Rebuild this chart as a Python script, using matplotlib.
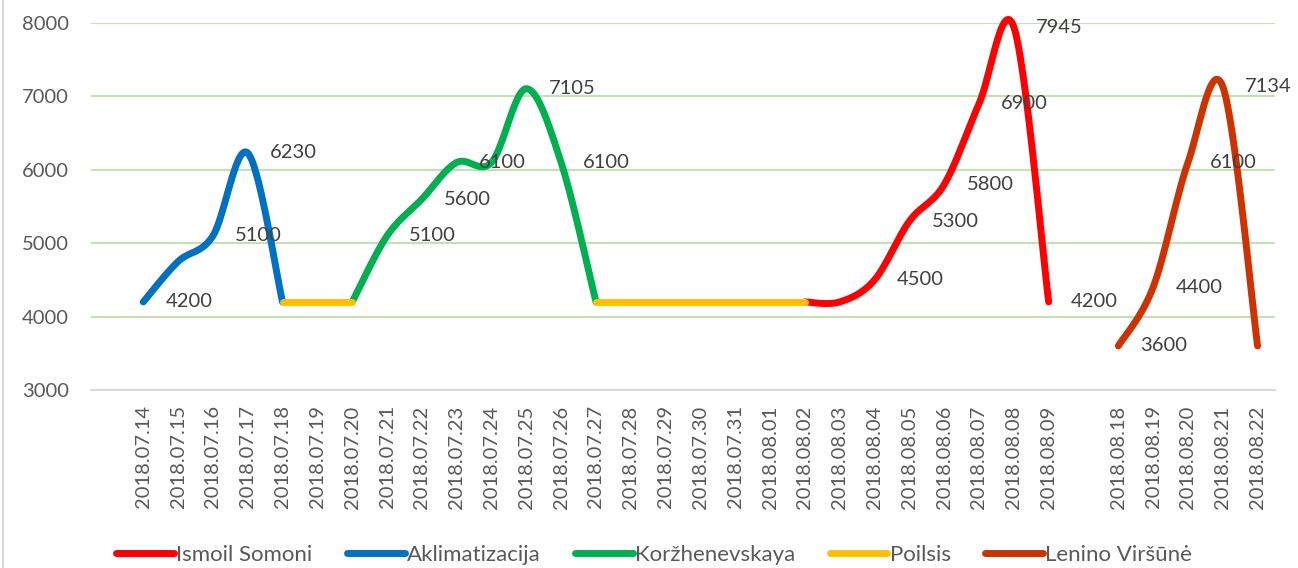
import matplotlib
matplotlib.use("Agg")

import numpy as np
import matplotlib.pyplot as plt
from matplotlib.lines import Line2D

# -----------------------------
# DATA
# -----------------------------
dates = ([""]
         + [f"2018.07.{d}" for d in range(14, 32)]
         + [f"2018.08.{d:02d}" for d in range(1, 10)]
         + [""]
         + [f"2018.08.{d}" for d in range(18, 23)])

somoni_dates  = ["2018.08.02", "2018.08.03", "2018.08.04", "2018.08.05",
                 "2018.08.06", "2018.08.07", "2018.08.08", "2018.08.09"]
somoni_vals   = [4200, 4200, 4500, 5300, 5800, 6900, 7945, 4200]
somoni_labels = [0, 0, 1, 1, 1, 1, 1, 1]

aklim_dates  = ["2018.07.14", "2018.07.15", "2018.07.16", "2018.07.17", "2018.07.18"]
aklim_vals   = [4200, 4750, 5100, 6230, 4200]
aklim_labels = [1, 0, 1, 1, 0]

korz_dates  = ["2018.07.20", "2018.07.21", "2018.07.22", "2018.07.23",
               "2018.07.24", "2018.07.25", "2018.07.26", "2018.07.27"]
korz_vals   = [4200, 5100, 5600, 6100, 6100, 7105, 6100, 4200]
korz_labels = [0, 1, 1, 1, 0, 1, 1, 0]

poilsis_dates = ["2018.07.18", "2018.07.19", "2018.07.20",
                 "2018.07.27", "2018.07.28", "2018.07.29", "2018.07.30",
                 "2018.07.31", "2018.08.01", "2018.08.02"]
poilsis_vals  = [4200] * 10
poilsis_labels = [0] * 10

lenino_dates  = ["2018.08.18", "2018.08.19", "2018.08.20", "2018.08.21", "2018.08.22"]
lenino_vals   = [3600, 4400, 6100, 7134, 3600]
lenino_labels = [1, 1, 1, 1, 0]

# -----------------------------
# STYLE
# -----------------------------
FONT      = "Lato"
FS        = 14.5
LEG_FS    = 16
TXT_GREY  = "#595959"
LBL_GREY  = "#404040"
LW        = 5

plt.rcParams["font.family"] = [FONT, "DejaVu Sans"]


def smooth(x, y, n=30):
    # excel-like smoothed line: cubic bezier through the points
    px = np.concatenate([[x[0]], x, [x[-1]]]).astype(float)
    py = np.concatenate([[y[0]], y, [y[-1]]]).astype(float)
    t  = np.linspace(0, 1, n)[:, None]
    out = []
    for i in range(1, len(px) - 2):
        p0 = np.array([px[i], py[i]])
        p3 = np.array([px[i + 1], py[i + 1]])
        c1 = p0 + (np.array([px[i + 1], py[i + 1]]) - np.array([px[i - 1], py[i - 1]])) / 6
        c2 = p3 - (np.array([px[i + 2], py[i + 2]]) - np.array([px[i], py[i]])) / 6
        seg = ((1 - t) ** 3) * p0 + 3 * ((1 - t) ** 2) * t * c1 + 3 * (1 - t) * t ** 2 * c2 + t ** 3 * p3
        out.append(seg if i == 1 else seg[1:])
    pts = np.vstack(out)
    return pts[:, 0], pts[:, 1]


def runs(idx, vals):
    # split a series at gaps in the category index
    groups, cur = [], [(idx[0], vals[0])]
    for a, b in zip(zip(idx[1:], vals[1:]), zip(idx[:-1], vals[:-1])):
        if a[0] - b[0] == 1:
            cur.append(a)
        else:
            groups.append(cur)
            cur = [a]
    groups.append(cur)
    return groups


series = [
    ("Ismoil Somoni",  somoni_dates,  somoni_vals,  somoni_labels,  "#FF0000"),
    ("Aklimatizacija", aklim_dates,   aklim_vals,   aklim_labels,   "#0070C0"),
    ("Koržhenevskaya", korz_dates,    korz_vals,    korz_labels,    "#00B050"),
    ("Poilsis",        poilsis_dates, poilsis_vals, poilsis_labels, "#FFC000"),
    ("Lenino Viršūnė", lenino_dates,  lenino_vals,  lenino_labels,  "#CC3300"),
]

fig = plt.figure(figsize=(12.98, 5.68), dpi=100)
ax  = fig.add_axes([91 / 1298, 1 - 390 / 568, (1275 - 91) / 1298, (390 - 23) / 568])

handles = []
for k, (name, ds, vs, lbls, col) in enumerate(series):
    idx = [dates.index(d) for d in ds]
    for grp in runs(idx, vs):
        gx = np.array([g[0] for g in grp])
        gy = np.array([g[1] for g in grp])
        sx, sy = smooth(gx, gy)
        ax.plot(sx, sy, color=col, lw=LW, solid_capstyle="round",
                clip_on=False, zorder=3 + k)
    for i, v, show in zip(idx, vs, lbls):
        if show:
            ax.annotate(f"{v}", (i, v), xytext=(16, 0), textcoords="offset points",
                        ha="left", va="center", fontsize=FS, color=LBL_GREY, zorder=10)
    handles.append(Line2D([], [], color=col, lw=LW, solid_capstyle="round"))

ax.set_xlim(-0.5, len(dates) - 0.5)
ax.set_ylim(3000, 8000)
ax.set_yticks(np.arange(3000, 8001, 1000))
ax.set_xticks(np.arange(len(dates)))
ax.set_xticklabels(dates, rotation=90)

for s in ["top", "right", "left"]:
    ax.spines[s].set_visible(False)
ax.spines["bottom"].set_color("#D9D9D9")
ax.spines["bottom"].set_linewidth(1.5)
ax.spines["bottom"].set_zorder(2)

ax.yaxis.grid(True, color="#C5E0B4", lw=1.5)
ax.set_axisbelow(True)
ax.tick_params(axis="both", length=0, labelsize=FS, labelcolor=TXT_GREY)
ax.tick_params(axis="y", pad=16)
ax.tick_params(axis="x", pad=11)

fig.legend(handles, [s[0] for s in series], loc="center",
           bbox_to_anchor=(654 / 1298, 1 - 555 / 568), ncol=5, frameon=False,
           fontsize=LEG_FS, labelcolor=TXT_GREY, handlelength=2.6,
           handletextpad=0.1, columnspacing=1.55)

# chart border on the left edge
fig.add_artist(Line2D([2.5 / 1298, 2.5 / 1298], [0, 1], color="#D9D9D9", lw=1.5))

fig.savefig("out.png", dpi=100)
